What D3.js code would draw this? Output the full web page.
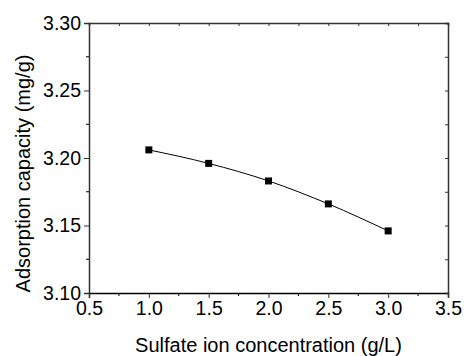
<!DOCTYPE html>
<html>
<head>
<meta charset="utf-8">
<script src="https://cdn.jsdelivr.net/npm/d3@7"></script>
<style>
  body { margin: 0; background: #fff; }
  text { font-family: "Liberation Sans", Arial, sans-serif; fill: #000; }
</style>
</head>
<body>
<div id="app"></div>
<script>
const concentration = [1.0, 1.5, 2.0, 2.5, 3.0];
const capacity = [3.206, 3.196, 3.183, 3.166, 3.146];
const xTicks = [0.5, 1.0, 1.5, 2.0, 2.5, 3.0, 3.5];
const yTicks = [3.10, 3.15, 3.20, 3.25, 3.30];

const width = 464;
const height = 356;
const margin = { top: 23, right: 16, bottom: 63, left: 89 };
const innerW = width - margin.left - margin.right;
const innerH = height - margin.top - margin.bottom;

const svg = d3.select('#app')
  .append('svg')
  .attr('width', width)
  .attr('height', height);

const g = svg.append('g')
  .attr('transform', `translate(${margin.left},${margin.top})`);

const x = d3.scaleLinear().domain([0.5, 3.5]).range([0, innerW]);
const y = d3.scaleLinear().domain([3.10, 3.30]).range([innerH, 0]);

const minorX = d3.range(0.75, 3.5, 0.5);
const minorY = d3.range(3.125, 3.3, 0.05);

// bottom axis: outward ticks
const xAxisB = g.append('g')
  .attr('transform', `translate(0,${innerH})`)
  .call(d3.axisBottom(x).tickValues(xTicks).tickFormat(d3.format('.1f')).tickSize(5).tickPadding(3));
xAxisB.append('g').selectAll('line')
  .data(minorX).enter().append('line')
  .attr('x1', d => x(d)).attr('x2', d => x(d))
  .attr('y1', 0).attr('y2', 3)
  .attr('stroke', '#000');

// left axis: outward ticks
const yAxisL = g.append('g')
  .call(d3.axisLeft(y).tickValues(yTicks).tickFormat(d3.format('.2f')).tickSize(5).tickPadding(3));
yAxisL.append('g').selectAll('line')
  .data(minorY).enter().append('line')
  .attr('y1', d => y(d)).attr('y2', d => y(d))
  .attr('x1', 0).attr('x2', -3)
  .attr('stroke', '#000');

// top and right axes: inward ticks, no labels
const xAxisT = g.append('g')
  .call(d3.axisTop(x).tickValues(xTicks.concat(minorX)).tickFormat('').tickSize(-3));
const yAxisR = g.append('g')
  .attr('transform', `translate(${innerW},0)`)
  .call(d3.axisRight(y).tickValues(yTicks.concat(minorY)).tickFormat('').tickSize(-3));

[xAxisB, yAxisL, xAxisT, yAxisR].forEach(a => {
  a.select('.domain').attr('stroke', '#333').attr('stroke-width', 1.5);
  a.selectAll('.tick line').attr('stroke', '#333');
  a.selectAll('.tick text').style('font-size', '19.5px').attr('fill', '#000');
});
xAxisB.select('.domain').attr('stroke', '#000');

const line = d3.line()
  .x((d, i) => x(concentration[i]))
  .y(d => y(d))
  .curve(d3.curveMonotoneX);

g.append('path')
  .datum(capacity)
  .attr('fill', 'none')
  .attr('stroke', '#000')
  .attr('stroke-width', 1)
  .attr('d', line);

g.selectAll('.pt')
  .data(capacity)
  .enter().append('rect')
  .attr('class', 'pt')
  .attr('x', (d, i) => x(concentration[i]) - 3.5)
  .attr('y', d => y(d) - 3.5)
  .attr('width', 7)
  .attr('height', 7)
  .attr('fill', '#000');

svg.append('text')
  .attr('x', margin.left + innerW / 2)
  .attr('y', 352)
  .attr('text-anchor', 'middle')
  .style('font-size', '20px')
  .text('Sulfate ion concentration (g/L)');

svg.append('text')
  .attr('transform', 'translate(30,173.5) rotate(-90)')
  .attr('text-anchor', 'middle')
  .style('font-size', '20px')
  .text('Adsorption capacity (mg/g)');
</script>
</body>
</html>
